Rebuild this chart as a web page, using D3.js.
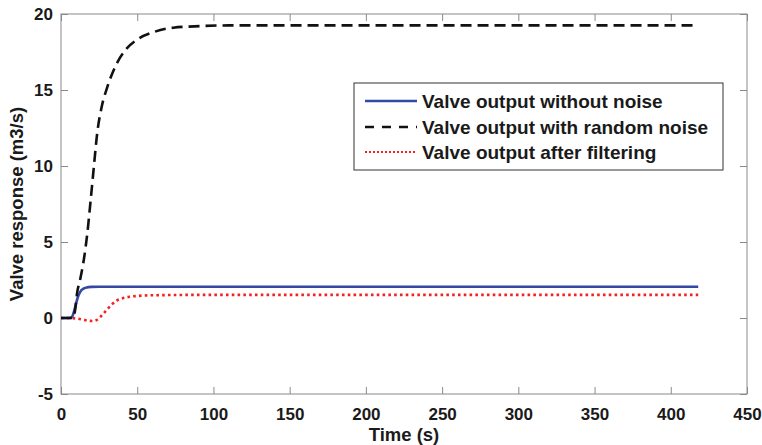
<!DOCTYPE html>
<html>
<head>
<meta charset="utf-8">
<script src="https://cdn.jsdelivr.net/npm/d3@7"></script>
<style>
  body { margin: 0; background: #fff; }
  text { font-family: "Liberation Sans", Arial, sans-serif; font-weight: bold; }
</style>
</head>
<body>
<div id="chart"></div>
<script>
// Daten (Zeit in s, Ventilantwort in m3/s)
const timeBlue = [0, 5, 7, 8, 9, 10, 11, 12, 13, 14, 16, 18, 20, 25, 418];
const valveNoNoise = [0, 0, 0.05, 0.25, 0.6, 1.0, 1.35, 1.6, 1.78, 1.88, 1.98, 2.03, 2.05, 2.06, 2.06];

const timeBlack = [0, 8, 9.5, 10.5, 12.5, 14.6, 17.3, 19.5, 21.6, 23.8, 26.7, 30.4, 35.4, 42, 49.7, 60.5, 73.6, 91, 110, 418];
const valveRandomNoise = [0, 0, 0.7, 1.6, 2.5, 3.6, 5.6, 7.8, 10.0, 12.2, 13.9, 15.2, 16.5, 17.6, 18.3, 18.8, 19.1, 19.2, 19.25, 19.25];

const timeRed = [0, 5, 10, 14, 18, 21, 24, 27, 30, 33, 36.5, 40, 45, 50, 58, 70, 90, 418];
const valveFiltered = [0, 0, -0.03, -0.1, -0.18, -0.2, -0.1, 0.2, 0.53, 0.85, 1.15, 1.28, 1.4, 1.45, 1.49, 1.51, 1.52, 1.52];

const xTicks = [0, 50, 100, 150, 200, 250, 300, 350, 400, 450];
const yTicks = [-5, 0, 5, 10, 15, 20];

const legendLabels = [
    "Valve output without noise",
    "Valve output with random noise",
    "Valve output after filtering"
];

const drawChart = () => {
    const margin = {top: 14, right: 15, bottom: 51, left: 61};
    const width = 762;
    const height = 445;
    const innerWidth = width - margin.left - margin.right;
    const innerHeight = height - margin.top - margin.bottom;

    const svg = d3.select("#chart")
        .append("svg")
        .attr("width", width)
        .attr("height", height);

    const innerChart = svg.append("g")
        .attr("transform", `translate(${margin.left}, ${margin.top})`);

    const xScale = d3.scaleLinear().domain([0, 450]).range([0, innerWidth]);
    const yScale = d3.scaleLinear().domain([-5, 20]).range([innerHeight, 0]);

    const axisColor = "#8a8a8a";

    // Achsen mit nach innen zeigenden Ticks (MATLAB-Stil), Bindestrich statt Minuszeichen
    const bottomAxis = d3.axisBottom(xScale).tickValues(xTicks).tickSize(-7).tickPadding(14).tickFormat(d => String(d));
    const leftAxis = d3.axisLeft(yScale).tickValues(yTicks).tickSize(-7).tickPadding(8).tickFormat(d => String(d));
    const topAxis = d3.axisTop(xScale).tickValues(xTicks).tickSize(-7).tickFormat("");
    const rightAxis = d3.axisRight(yScale).tickValues(yTicks).tickSize(-7).tickFormat("");

    const styleAxis = g => {
        g.select(".domain").remove();
        g.selectAll(".tick line").attr("stroke", axisColor);
        g.selectAll(".tick text")
            .attr("fill", "#1a1a1a")
            .style("font-size", "17px");
    };

    innerChart.append("g")
        .attr("transform", `translate(0, ${innerHeight})`)
        .call(bottomAxis).call(styleAxis);
    innerChart.append("g").call(leftAxis).call(styleAxis);
    innerChart.append("g").call(topAxis).call(styleAxis);
    innerChart.append("g")
        .attr("transform", `translate(${innerWidth}, 0)`)
        .call(rightAxis).call(styleAxis);

    innerChart.append("rect")
        .attr("x", 0).attr("y", 0)
        .attr("width", innerWidth).attr("height", innerHeight)
        .attr("fill", "none")
        .attr("stroke", axisColor);

    // Achsenbeschriftungen
    svg.append("text")
        .text("Time (s)")
        .attr("x", margin.left + innerWidth / 2)
        .attr("y", 441)
        .attr("text-anchor", "middle")
        .style("font-size", "18.5px")
        .attr("fill", "#1a1a1a");

    svg.append("text")
        .text("Valve response (m3/s)")
        .attr("transform", `translate(23, ${margin.top + innerHeight / 2}) rotate(-90)`)
        .attr("text-anchor", "middle")
        .style("font-size", "18.5px")
        .attr("fill", "#1a1a1a");

    const series = [
        {t: timeBlue, v: valveNoNoise, color: "#3349a3", dash: null},
        {t: timeBlack, v: valveRandomNoise, color: "#111111", dash: "11,6"},
        {t: timeRed, v: valveFiltered, color: "#f52020", dash: "2.6,3.2"}
    ];

    const lineGenerator = d3.line()
        .x(d => xScale(d[0]))
        .y(d => yScale(d[1]))
        .curve(d3.curveMonotoneX);

    // Reihenfolge: rot, blau, schwarz (schwarz oben)
    [2, 0, 1].forEach(i => {
        const s = series[i];
        innerChart.append("path")
            .attr("d", lineGenerator(d3.zip(s.t, s.v)))
            .attr("fill", "none")
            .attr("stroke", s.color)
            .attr("stroke-width", 2.6)
            .attr("stroke-dasharray", s.dash);
    });

    // Legende
    const legend = svg.append("g").attr("transform", "translate(354, 83)");
    legend.append("rect")
        .attr("width", 369).attr("height", 87)
        .attr("fill", "#fff")
        .attr("stroke", "#333")
        .attr("stroke-width", 1);

    const rowY = [18, 44, 69];
    legendLabels.forEach((label, i) => {
        legend.append("line")
            .attr("x1", 11).attr("x2", 63)
            .attr("y1", rowY[i]).attr("y2", rowY[i])
            .attr("stroke", series[i].color)
            .attr("stroke-width", i === 2 ? 2 : 2.6)
            .attr("stroke-dasharray", i === 1 ? "9,8" : (i === 2 ? "2,2" : null));
        legend.append("text")
            .text(label)
            .attr("x", 68)
            .attr("y", rowY[i])
            .attr("dy", "0.36em")
            .style("font-size", "19px")
            .attr("fill", "#1a1a1a");
    });
};

drawChart();
</script>
</body>
</html>
